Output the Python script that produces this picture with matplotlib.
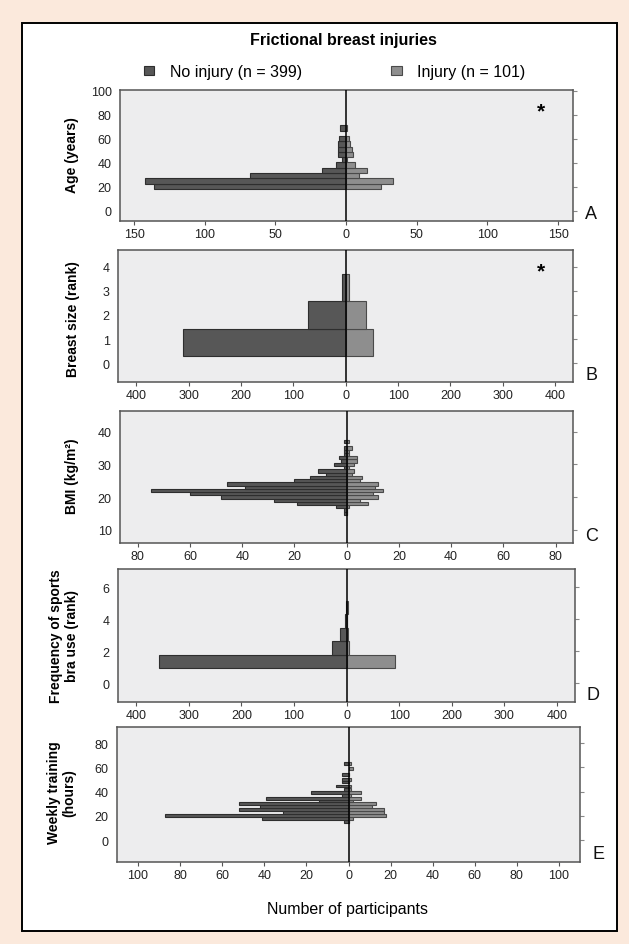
import matplotlib
matplotlib.use("Agg")
import matplotlib.pyplot as plt
from matplotlib.patches import Rectangle

# ---- data (counts per bin, bin centres) ----
age_bins = [20.4, 24.8, 29.2, 33.6, 38.0, 42.4, 46.8, 51.2, 55.6, 60.0, 68.8]
age_no = [136, 142, 68, 17, 7, 3, 6, 6, 6, 5, 4]
age_inj = [25, 33, 9, 15, 6, 1, 5, 4, 3, 2, 1]
age_w = 4.4

size_bins = [0.87, 2.0, 3.13]
size_no = [310, 73, 7]
size_inj = [52, 38, 7]
size_w = 1.13

bmi_bins = [15, 16, 17, 18, 19, 20, 21, 22, 23, 24, 25, 26, 27, 28, 29, 30, 31, 32, 33, 34, 35, 37]
bmi_no = [1, 1, 4, 19, 28, 48, 60, 75, 39, 46, 20, 14, 8, 11, 1, 5, 2, 3, 1, 1, 1, 1]
bmi_inj = [0, 0, 1, 8, 5, 12, 10, 14, 11, 12, 5, 6, 2, 3, 1, 3, 4, 4, 1, 1, 2, 1]
bmi_w = 1.0

bra_bins = [1.36, 2.21, 3.05, 3.9, 4.74]
bra_no = [356, 27, 13, 4, 2]
bra_inj = [91, 4, 2, 1, 2]
bra_w = 0.845

train_bins = [15.4, 17.6, 20.0, 23.0, 25.5, 27.9, 30.3, 32.3, 34.7, 37.1, 39.6,
              42.0, 44.7, 48.0, 50.1, 54.2, 58.8, 63.4]
train_no = [2, 41, 87, 31, 52, 42, 52, 14, 39, 3, 18, 2, 6, 3, 3, 3, 0, 2]
train_inj = [0, 2, 18, 17, 17, 11, 13, 2, 6, 1, 6, 1, 1, 0, 1, 0, 2, 1]
train_w = 2.4

W, H = 629, 945
FONT = ["Liberation Sans Narrow", "Liberation Sans", "DejaVu Sans"]
plt.rcParams["font.family"] = FONT

DARK = "#575757"
DARK_EDGE = "#2e2e2e"
LIGHT = "#8e8e8e"
LIGHT_EDGE = "#4a4a4a"
BG = "#ededee"

fig = plt.figure(figsize=(W / 100, H / 100), dpi=100, facecolor="#fbe9dc")
fig.patches.append(Rectangle((22 / W, 1 - 932 / H), (617 - 22) / W, (932 - 24) / H,
                             transform=fig.transFigure, facecolor="white",
                             edgecolor="black", lw=1.4, zorder=-10))


def rect(l, r, t, b):
    return [l / W, 1 - b / H, (r - l) / W, (b - t) / H]


def panel(box, bins, no, inj, bw, xlim, ylim, xticks, yticks, letter, star=False):
    ax = fig.add_axes(rect(*box))
    ax.set_facecolor(BG)
    ax.barh(bins, [-v for v in no], height=bw, color=DARK, edgecolor=DARK_EDGE,
            linewidth=0.8, zorder=2)
    ax.barh(bins, inj, height=bw, color=LIGHT, edgecolor=LIGHT_EDGE,
            linewidth=0.8, zorder=2)
    ax.axvline(0, color="black", lw=1.1, zorder=3)
    ax.set_xlim(*xlim)
    ax.set_ylim(*ylim)
    ax.set_xticks(xticks)
    ax.set_xticklabels([str(abs(t)) for t in xticks])
    ax.set_yticks(yticks)
    for s in ax.spines.values():
        s.set_color("#555555")
        s.set_linewidth(1.1)
    ax.tick_params(axis="x", length=3, width=0.8, color="#555555", pad=2,
                   labelsize=9, labelcolor="#222222")
    ax.tick_params(axis="y", left=False, right=True, length=3, width=0.8,
                   color="#888888", pad=3, labelsize=9, labelcolor="#222222")
    ax.text(1.04, 0.06, letter, transform=ax.transAxes, fontsize=13,
            ha="center", va="center", color="#111111")
    if star:
        ax.text(0.93, 0.84, "*", transform=ax.transAxes, fontsize=15,
                ha="center", va="center", fontweight="bold")
    return ax


panel((120, 573, 91, 222), age_bins, age_no, age_inj, age_w,
      (-160, 160.6), (-8.5, 100.5), list(range(-150, 151, 50)),
      list(range(0, 101, 20)), "A", star=True)
panel((118, 573, 251, 383), size_bins, size_no, size_inj, size_w,
      (-435, 434), (-0.78, 4.69), list(range(-400, 401, 100)),
      list(range(0, 5)), "B", star=True)
panel((120, 573, 412, 544), bmi_bins, bmi_no, bmi_inj, bmi_w,
      (-86.8, 86.7), (5.95, 46.3), list(range(-80, 81, 20)),
      list(range(10, 41, 10)), "C")
panel((118, 575, 570, 703), bra_bins, bra_no, bra_inj, bra_w,
      (-434.5, 434), (-1.17, 7.15), list(range(-400, 401, 100)),
      list(range(0, 7, 2)), "D")
panel((117, 580, 728, 863), train_bins, train_no, train_inj, train_w,
      (-110, 110), (-18.2, 93.5), list(range(-100, 101, 20)),
      list(range(0, 81, 20)), "E")

# titles, legend and axis labels
fig.text(343 / W, 1 - 40 / H, "Frictional breast injuries", ha="center",
         va="center", fontsize=11.5, fontweight="bold")

fig.patches.append(Rectangle((144 / W, 1 - 76 / H), 10 / W, 9 / H,
                             transform=fig.transFigure, facecolor=DARK,
                             edgecolor=DARK_EDGE, lw=0.8))
fig.text(170 / W, 1 - 72 / H, "No injury (n = 399)", ha="left", va="center",
         fontsize=11.5)
fig.patches.append(Rectangle((391 / W, 1 - 76 / H), 11 / W, 9 / H,
                             transform=fig.transFigure, facecolor=LIGHT,
                             edgecolor=LIGHT_EDGE, lw=0.8))
fig.text(417 / W, 1 - 72 / H, "Injury (n = 101)", ha="left", va="center",
         fontsize=11.5)

ylabels = [
    (72, 155, "Age (years)"),
    (73, 319, "Breast size (rank)"),
    (72, 476, "BMI (kg/m²)"),
    (64, 636, "Frequency of sports\nbra use (rank)"),
    (62, 793, "Weekly training\n(hours)"),
]
for x, y, s in ylabels:
    fig.text(x / W, 1 - y / H, s, rotation=90, ha="center", va="center",
             fontsize=10, fontweight="bold", multialignment="center",
             linespacing=1.1)

fig.text(348 / W, 1 - 910 / H, "Number of participants", ha="center",
         va="center", fontsize=11.5)

fig.savefig("out.png", dpi=100, facecolor=fig.get_facecolor())
